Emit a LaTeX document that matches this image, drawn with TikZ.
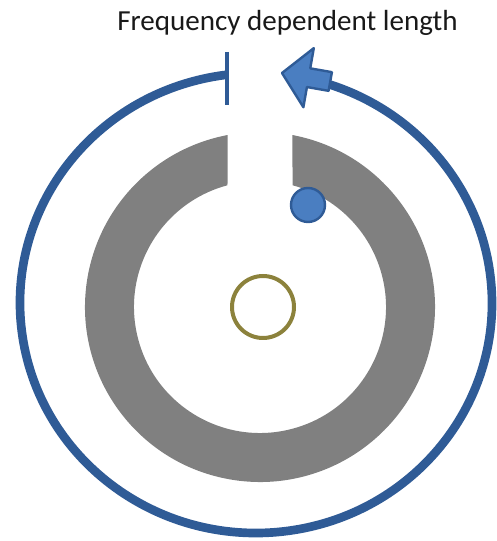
\documentclass[tikz,border=0pt]{standalone}
\usepackage{fontspec}
\setmainfont{Carlito}
\usepackage{xcolor}
\usetikzlibrary{positioning, calc}

\definecolor{lineblue}{RGB}{47,91,150}
\definecolor{fillblue}{RGB}{74,126,193}
\definecolor{ringgray}{RGB}{128,128,128}
\definecolor{coreolive}{RGB}{140,130,60}

\begin{document}
\begin{tikzpicture}[x=0.75pt, y=0.75pt, line join=round]
        \tikzstyle{wire} = [draw=lineblue, line width=6.5pt]
        \tikzstyle{stub} = [draw=lineblue, line width=3pt]
        \tikzstyle{blob} = [draw=lineblue, fill=fillblue, line width=1.8pt]
        \tikzstyle{core} = [draw=coreolive, line width=3pt]
        \tikzstyle{caption} = [font=\fontsize{21.8}{26}\selectfont, text=black!90, anchor=base]

        \useasboundingbox (-260,-234) rectangle (236,307);
        \coordinate (ringc) at (0,0);
        \coordinate (wirec) at (-4,4);

        % --- grauer Ring mit Spalt ---
        \fill[ringgray] (79.3:175) arc[start angle=79.3, end angle=-259.3, radius=175]
            -- (104.95:126) arc[start angle=104.95, end angle=435.05, radius=126] -- cycle;

        % --- Kern und Punkt ---
        \draw[core] (3,0) circle[radius=31];
        \draw[blob] (48,102) circle[radius=17];

        % --- aeusserer Leiter ---
        \coordinate (wstart) at ($(wirec)+(97.06:236 and 230)$);
        \draw[wire] (wstart) arc[start angle=97.06, end angle=432, x radius=236, y radius=230] coordinate (wend);
        \draw[stub] (-33,255) -- (-33,202);

        % --- Pfeil ---
        \begin{scope}[shift={(22,234)}, rotate=170]
            \draw[blob] (0,0) -- (-27,30) -- (-27,9.5) -- (-49,9.5) -- (-49,-9.5)
                -- (-27,-9.5) -- (-27,-30) -- cycle;
        \end{scope}

        \node[caption] (title) at (27.5,276.3) {Frequency dependent length};
\end{tikzpicture}
\end{document}
